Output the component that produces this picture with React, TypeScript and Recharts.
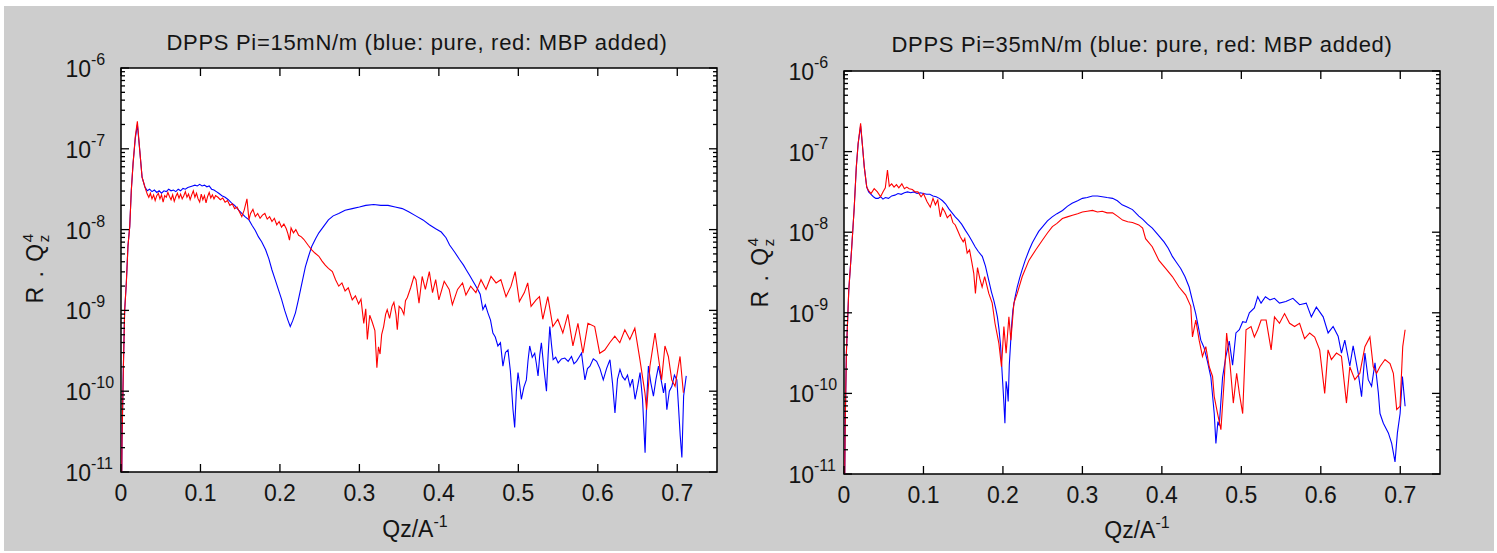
import React from "react";
import { Line, LineChart, ReferenceArea, XAxis, YAxis } from "recharts";

// Qz (1/A) and log10(R.Qz^4)
const pure15: [number, number][] = [
  [0.0005, -11.6], [0.0013, -10.6], [0.003, -9.7], [0.0046, -9.0], [0.0067, -8.66], [0.0088, -8.2],
  [0.011, -7.96], [0.013, -7.51], [0.0152, -7.18], [0.018, -6.87], [0.0206, -6.7], [0.0236, -7.02],
  [0.0265, -7.35], [0.03, -7.47], [0.033, -7.52], [0.036, -7.5], [0.039, -7.53], [0.042, -7.51],
  [0.045, -7.54], [0.048, -7.52], [0.051, -7.55], [0.054, -7.52], [0.057, -7.53], [0.06, -7.5],
  [0.063, -7.52], [0.066, -7.51], [0.069, -7.53], [0.072, -7.5], [0.075, -7.52], [0.078, -7.49],
  [0.081, -7.5], [0.084, -7.48], [0.087, -7.47], [0.09, -7.46], [0.093, -7.45], [0.096, -7.46],
  [0.099, -7.44], [0.102, -7.46], [0.105, -7.45], [0.108, -7.47], [0.111, -7.46], [0.114, -7.5],
  [0.117, -7.51], [0.12, -7.53], [0.123, -7.55], [0.127, -7.58], [0.131, -7.6], [0.135, -7.63],
  [0.139, -7.67], [0.143, -7.7], [0.148, -7.76], [0.152, -7.8], [0.156, -7.84], [0.161, -7.88],
  [0.165, -7.95], [0.169, -8.01], [0.173, -8.09], [0.177, -8.15], [0.182, -8.25], [0.186, -8.36],
  [0.19, -8.5], [0.194, -8.62], [0.198, -8.74], [0.202, -8.86], [0.206, -9.0], [0.21, -9.12],
  [0.213, -9.2], [0.216, -9.13], [0.2195, -9.03], [0.223, -8.88], [0.226, -8.74], [0.229, -8.6],
  [0.232, -8.46], [0.236, -8.33], [0.24, -8.21], [0.245, -8.11], [0.249, -8.04], [0.255, -7.96],
  [0.261, -7.88], [0.267, -7.83], [0.274, -7.8], [0.282, -7.76], [0.291, -7.74], [0.3, -7.72],
  [0.308, -7.7], [0.318, -7.69], [0.327, -7.7], [0.336, -7.7], [0.345, -7.72], [0.354, -7.74],
  [0.362, -7.78], [0.371, -7.83], [0.38, -7.88], [0.388, -7.94], [0.396, -7.99], [0.403, -8.03],
  [0.409, -8.1], [0.4135, -8.19], [0.42, -8.28], [0.426, -8.37], [0.431, -8.44], [0.4346, -8.5],
  [0.439, -8.57], [0.443, -8.64], [0.449, -8.74], [0.452, -8.8], [0.4554, -8.99], [0.4585, -8.93],
  [0.4617, -9.03], [0.465, -9.12], [0.468, -9.28], [0.471, -9.33], [0.4743, -9.44], [0.4775, -9.4],
  [0.4806, -9.69], [0.4838, -9.52], [0.487, -9.49], [0.49, -9.75], [0.4933, -10.23], [0.4954, -10.45],
  [0.4975, -10.0], [0.4996, -9.77], [0.5017, -9.92], [0.5038, -10.1], [0.507, -9.95], [0.5101, -9.86],
  [0.5122, -9.62], [0.5143, -9.44], [0.5175, -9.58], [0.5206, -9.53], [0.5227, -9.66], [0.5248, -9.81],
  [0.527, -9.55], [0.529, -9.4], [0.532, -9.7], [0.5354, -10.0], [0.5375, -9.55], [0.5396, -9.2],
  [0.5417, -9.42], [0.5438, -9.61], [0.547, -9.58], [0.5501, -9.65], [0.5543, -9.6], [0.5585, -9.59],
  [0.5627, -9.63], [0.5669, -9.57], [0.57, -9.66], [0.5732, -9.63], [0.5764, -9.58], [0.5795, -9.53],
  [0.5817, -9.7], [0.5838, -9.86], [0.587, -9.72], [0.5901, -9.69], [0.5943, -9.6], [0.5985, -9.63],
  [0.6027, -9.72], [0.6069, -9.86], [0.611, -9.72], [0.6153, -9.61], [0.6185, -9.9], [0.6216, -10.27],
  [0.6248, -9.85], [0.6279, -9.73], [0.631, -9.82], [0.6342, -9.86], [0.6374, -9.8], [0.6406, -9.94],
  [0.6437, -9.85], [0.6469, -10.1], [0.65, -9.95], [0.6532, -9.77], [0.6563, -10.1], [0.6595, -10.76],
  [0.6616, -10.1], [0.6637, -9.69], [0.6668, -9.9], [0.67, -10.06], [0.6732, -9.85], [0.6764, -9.69],
  [0.6795, -9.85], [0.6827, -10.02], [0.6848, -9.9], [0.6869, -10.23], [0.69, -10.0], [0.6932, -9.94],
  [0.6964, -9.8], [0.6995, -9.86], [0.7016, -10.2], [0.7037, -10.55], [0.7058, -10.82], [0.708, -10.06],
  [0.7113, -9.81],
];

const mbp15: [number, number][] = [
  [0.0005, -11.6], [0.0013, -10.6], [0.003, -9.7], [0.0046, -9.0], [0.0067, -8.66], [0.0088, -8.2],
  [0.011, -7.96], [0.013, -7.51], [0.0152, -7.18], [0.018, -6.85], [0.0206, -6.66], [0.0236, -7.02],
  [0.0265, -7.35], [0.03, -7.47], [0.033, -7.56], [0.035, -7.6], [0.037, -7.55], [0.039, -7.62],
  [0.041, -7.57], [0.043, -7.64], [0.045, -7.58], [0.047, -7.55], [0.049, -7.62], [0.051, -7.57],
  [0.053, -7.66], [0.055, -7.58], [0.057, -7.6], [0.059, -7.54], [0.061, -7.59], [0.063, -7.63],
  [0.065, -7.57], [0.067, -7.65], [0.069, -7.59], [0.071, -7.55], [0.073, -7.61], [0.075, -7.56],
  [0.077, -7.62], [0.079, -7.58], [0.081, -7.53], [0.083, -7.6], [0.085, -7.56], [0.087, -7.63],
  [0.089, -7.57], [0.091, -7.52], [0.093, -7.6], [0.095, -7.55], [0.097, -7.62], [0.099, -7.66],
  [0.101, -7.56], [0.103, -7.63], [0.105, -7.58], [0.107, -7.67], [0.109, -7.59], [0.111, -7.54],
  [0.113, -7.61], [0.115, -7.57], [0.117, -7.62], [0.119, -7.58], [0.122, -7.6], [0.125, -7.63],
  [0.128, -7.61], [0.131, -7.66], [0.134, -7.64], [0.137, -7.7], [0.14, -7.68], [0.143, -7.74],
  [0.146, -7.72], [0.149, -7.78], [0.152, -7.84], [0.155, -7.76], [0.1585, -7.62], [0.161, -7.88],
  [0.163, -7.8], [0.166, -7.75], [0.169, -7.84], [0.172, -7.8], [0.175, -7.86], [0.178, -7.82],
  [0.181, -7.8], [0.184, -7.87], [0.187, -7.84], [0.19, -7.9], [0.193, -7.86], [0.196, -7.94],
  [0.199, -7.9], [0.202, -7.97], [0.205, -7.93], [0.208, -7.99], [0.21, -8.05], [0.212, -8.13],
  [0.214, -7.98], [0.217, -8.04], [0.22, -8.0], [0.2235, -8.07], [0.227, -8.09], [0.23, -8.12],
  [0.233, -8.16], [0.236, -8.2], [0.24, -8.25], [0.244, -8.29], [0.249, -8.33], [0.253, -8.39],
  [0.257, -8.44], [0.261, -8.48], [0.266, -8.52], [0.27, -8.62], [0.274, -8.7], [0.278, -8.66],
  [0.282, -8.76], [0.286, -8.72], [0.291, -8.87], [0.295, -8.82], [0.299, -8.92], [0.302, -8.86],
  [0.3055, -9.16], [0.308, -8.98], [0.31, -9.36], [0.313, -9.06], [0.316, -9.14], [0.3195, -9.25],
  [0.322, -9.71], [0.324, -9.45], [0.326, -9.54], [0.328, -9.3], [0.3305, -9.2], [0.333, -9.05],
  [0.335, -8.99], [0.338, -9.1], [0.341, -8.95], [0.3434, -8.9], [0.346, -9.05], [0.3477, -9.24],
  [0.35, -8.95], [0.353, -8.98], [0.356, -9.05], [0.358, -8.88], [0.3603, -8.84], [0.3645, -8.72],
  [0.3687, -8.58], [0.3712, -8.62], [0.375, -8.91], [0.379, -8.58], [0.383, -8.74], [0.388, -8.52],
  [0.392, -8.78], [0.396, -8.62], [0.4, -8.87], [0.4067, -8.64], [0.413, -8.74], [0.417, -8.93],
  [0.4235, -8.74], [0.4298, -8.66], [0.434, -8.81], [0.44, -8.7], [0.4466, -8.78], [0.453, -8.62],
  [0.4593, -8.74], [0.4656, -8.58], [0.472, -8.66], [0.478, -8.62], [0.4845, -8.83], [0.4908, -8.7],
  [0.496, -8.52], [0.5013, -8.89], [0.5076, -8.78], [0.5118, -8.66], [0.516, -8.95], [0.5224, -8.87],
  [0.5266, -8.83], [0.5308, -9.11], [0.5371, -8.83], [0.5434, -9.2], [0.5497, -9.11], [0.556, -9.28],
  [0.5623, -9.05], [0.5687, -9.44], [0.575, -9.16], [0.5813, -9.53], [0.5876, -9.16], [0.5961, -9.2],
  [0.6024, -9.53], [0.6087, -9.49], [0.615, -9.4], [0.6214, -9.32], [0.6277, -9.4], [0.634, -9.24],
  [0.6403, -9.36], [0.6466, -9.22], [0.653, -9.61], [0.6593, -10.02], [0.6614, -10.23], [0.6656, -9.69],
  [0.672, -9.28], [0.6761, -9.57], [0.6803, -9.86], [0.6845, -9.44], [0.6888, -9.57], [0.693, -9.86],
  [0.6972, -9.94], [0.7035, -9.57], [0.7077, -10.02],
];

const pure35: [number, number][] = [
  [0.0005, -11.5], [0.0015, -10.4], [0.003, -9.5], [0.006, -8.72], [0.0095, -8.22], [0.0129, -7.69],
  [0.0155, -7.19], [0.0178, -6.9], [0.0209, -6.68], [0.023, -6.9], [0.0255, -7.19], [0.0286, -7.44],
  [0.031, -7.5], [0.034, -7.53], [0.037, -7.56], [0.04, -7.58], [0.043, -7.58], [0.046, -7.56],
  [0.049, -7.59], [0.052, -7.57], [0.056, -7.58], [0.06, -7.55], [0.064, -7.54], [0.068, -7.52],
  [0.072, -7.53], [0.076, -7.51], [0.08, -7.5], [0.084, -7.51], [0.088, -7.5], [0.092, -7.52],
  [0.096, -7.51], [0.1, -7.52], [0.104, -7.53], [0.108, -7.53], [0.112, -7.55], [0.116, -7.56],
  [0.12, -7.58], [0.124, -7.61], [0.128, -7.65], [0.132, -7.71], [0.136, -7.76], [0.14, -7.81],
  [0.144, -7.85], [0.148, -7.9], [0.153, -7.98], [0.157, -8.04], [0.161, -8.11], [0.165, -8.18],
  [0.169, -8.24], [0.174, -8.3], [0.178, -8.42], [0.182, -8.59], [0.1855, -8.74], [0.1886, -8.85],
  [0.191, -8.95], [0.193, -9.05], [0.195, -9.2], [0.197, -9.4], [0.199, -9.75], [0.201, -10.08],
  [0.2025, -10.37], [0.204, -9.85], [0.2055, -9.95], [0.2066, -10.1], [0.208, -9.65], [0.2096, -9.38],
  [0.211, -9.15], [0.2125, -8.97], [0.215, -8.82], [0.218, -8.68], [0.221, -8.57], [0.224, -8.47],
  [0.228, -8.35], [0.233, -8.22], [0.237, -8.13], [0.241, -8.06], [0.245, -7.99], [0.25, -7.93],
  [0.256, -7.86], [0.262, -7.81], [0.268, -7.77], [0.275, -7.73], [0.281, -7.68], [0.287, -7.64],
  [0.294, -7.61], [0.3, -7.58], [0.306, -7.57], [0.3127, -7.55], [0.319, -7.55], [0.325, -7.56],
  [0.331, -7.57], [0.338, -7.58], [0.344, -7.61], [0.35, -7.66], [0.357, -7.69], [0.363, -7.72],
  [0.371, -7.8], [0.376, -7.84], [0.382, -7.9], [0.388, -7.95], [0.395, -8.03], [0.4027, -8.12],
  [0.408, -8.2], [0.4132, -8.3], [0.418, -8.37], [0.4237, -8.45], [0.429, -8.55], [0.4343, -8.68],
  [0.4385, -8.85], [0.4426, -9.01], [0.446, -9.18], [0.449, -9.34], [0.453, -9.43], [0.4575, -9.61],
  [0.4617, -9.8], [0.4659, -10.25], [0.468, -10.62], [0.4705, -10.35], [0.4722, -10.4], [0.4764, -9.8],
  [0.4806, -9.54], [0.4848, -9.35], [0.489, -9.65], [0.4932, -9.25], [0.4975, -9.21], [0.5017, -9.11],
  [0.5059, -9.12], [0.5101, -9.0], [0.5164, -8.94], [0.5206, -8.8], [0.5248, -8.88], [0.5303, -8.8],
  [0.536, -8.84], [0.5417, -8.82], [0.548, -8.88], [0.556, -8.86], [0.5649, -8.82], [0.5733, -8.9],
  [0.5817, -8.88], [0.5881, -9.05], [0.5944, -8.93], [0.603, -9.05], [0.6092, -9.25], [0.6155, -9.17],
  [0.6218, -9.29], [0.626, -9.5], [0.6302, -9.34], [0.6365, -9.66], [0.6407, -9.41], [0.6471, -9.75],
  [0.6513, -10.04], [0.6555, -9.5], [0.6597, -9.83], [0.6639, -9.91], [0.6682, -9.62], [0.6724, -9.99],
  [0.6745, -10.25], [0.6787, -10.37], [0.685, -10.49], [0.6892, -10.62], [0.6934, -10.85], [0.6964, -10.49],
  [0.6998, -10.25], [0.7027, -9.79], [0.7061, -10.16],
];

const mbp35: [number, number][] = [
  [0.0005, -11.5], [0.0015, -10.4], [0.003, -9.5], [0.006, -8.72], [0.0095, -8.22], [0.0129, -7.69],
  [0.0155, -7.19], [0.0178, -6.9], [0.0209, -6.65], [0.023, -6.9], [0.0255, -7.19], [0.0286, -7.44],
  [0.0307, -7.48], [0.034, -7.52], [0.038, -7.46], [0.042, -7.5], [0.046, -7.56], [0.049, -7.5],
  [0.052, -7.45], [0.0547, -7.23], [0.057, -7.43], [0.06, -7.4], [0.063, -7.44], [0.066, -7.41],
  [0.069, -7.45], [0.0728, -7.4], [0.076, -7.46], [0.079, -7.44], [0.082, -7.46], [0.086, -7.47],
  [0.0896, -7.5], [0.093, -7.5], [0.097, -7.56], [0.1, -7.52], [0.1044, -7.62], [0.1086, -7.69],
  [0.112, -7.58], [0.115, -7.66], [0.118, -7.6], [0.1212, -7.81], [0.124, -7.7], [0.127, -7.75],
  [0.13, -7.82], [0.134, -7.78], [0.137, -7.88], [0.14, -7.91], [0.143, -7.98], [0.1465, -8.06],
  [0.15, -8.12], [0.152, -8.08], [0.155, -8.26], [0.158, -8.22], [0.161, -8.38], [0.1633, -8.51],
  [0.1654, -8.76], [0.168, -8.44], [0.171, -8.58], [0.1738, -8.68], [0.177, -8.55], [0.1822, -8.76],
  [0.1865, -8.88], [0.19, -9.13], [0.1949, -9.38], [0.1982, -9.67], [0.2012, -9.17], [0.204, -9.5],
  [0.2075, -9.05], [0.21, -9.34], [0.2138, -8.88], [0.218, -8.76], [0.2243, -8.55], [0.2327, -8.35],
  [0.2412, -8.22], [0.2496, -8.1], [0.256, -8.01], [0.2622, -7.93], [0.268, -7.89], [0.2748, -7.83],
  [0.281, -7.81], [0.2875, -7.79], [0.294, -7.77], [0.3, -7.75], [0.306, -7.74], [0.3127, -7.73],
  [0.319, -7.75], [0.325, -7.74], [0.331, -7.76], [0.338, -7.76], [0.344, -7.8], [0.3506, -7.85],
  [0.357, -7.87], [0.363, -7.88], [0.371, -7.91], [0.3758, -7.95], [0.3795, -8.08], [0.3879, -8.18],
  [0.3963, -8.35], [0.4047, -8.45], [0.4132, -8.55], [0.4216, -8.68], [0.43, -8.78], [0.4364, -8.92],
  [0.4385, -9.3], [0.4427, -9.09], [0.4469, -9.34], [0.4511, -9.54], [0.4553, -9.42], [0.4596, -9.67],
  [0.4638, -9.79], [0.4659, -10.04], [0.4701, -10.25], [0.4743, -10.45], [0.4785, -9.83], [0.4815, -9.25],
  [0.4857, -9.63], [0.4899, -10.12], [0.4941, -9.75], [0.4975, -10.0], [0.5017, -10.25], [0.5059, -9.21],
  [0.5122, -9.17], [0.5164, -9.3], [0.5206, -9.21], [0.5249, -9.09], [0.5312, -9.09], [0.5375, -9.46],
  [0.5417, -9.05], [0.548, -9.13], [0.5544, -9.01], [0.5607, -9.13], [0.567, -9.17], [0.5733, -9.13],
  [0.5796, -9.32], [0.586, -9.25], [0.5923, -9.3], [0.5986, -9.46], [0.6049, -10.0], [0.6091, -9.46],
  [0.6133, -9.58], [0.6197, -9.5], [0.626, -9.54], [0.6323, -10.12], [0.6365, -9.67], [0.6428, -9.83],
  [0.6491, -9.75], [0.6555, -9.42], [0.6618, -9.3], [0.666, -9.67], [0.6702, -9.75], [0.6744, -9.67],
  [0.6808, -9.58], [0.6871, -9.63], [0.6913, -9.75], [0.6955, -10.2], [0.6997, -10.16], [0.7031, -9.42],
  [0.7061, -9.21],
];

const X_TICKS = [0, 0.1, 0.2, 0.3, 0.4, 0.5, 0.6, 0.7];
const Y_DECADES = [-11, -10, -9, -8, -7, -6];
const Y_MAJOR = Y_DECADES.map((e) => 10 ** e);
const Y_TICKS = [
  ...Y_MAJOR,
  ...Y_DECADES.slice(0, -1).flatMap((e) => [2, 3, 4, 5, 6, 7, 8, 9].map((m) => m * 10 ** e)),
];

const FONT = "'Liberation Sans', Arial, Helvetica, sans-serif";
const INK = "#141414";
const AXIS_W = 60;
const AXIS_H = 60;
const CHART_H = 553;

const toRows = (pts: [number, number][]) => pts.map(([q, e]) => ({ q, r: 10 ** e }));

function yTick(plotW: number) {
  return (props: any) => {
    const { x, y, payload } = props;
    const v = payload.value;
    const exp = Math.round(Math.log10(v));
    const major = Math.abs(v / 10 ** exp - 1) < 1e-6;
    const len = major ? 8 : 4;
    return (
      <g>
        <line x1={x} y1={y} x2={x + len} y2={y} stroke="#000" strokeWidth={1.3} />
        <line x1={x + plotW} y1={y} x2={x + plotW - len} y2={y} stroke="#000" strokeWidth={1.3} />
        {major && (
          <>
            <text x={x - 30} y={y + 9} textAnchor="end" fontSize={23} fontFamily={FONT} fill={INK}>
              10
            </text>
            <text x={x - 30} y={y - 3} textAnchor="start" fontSize={16} fontFamily={FONT} fill={INK}>
              {String(exp).replace("-", "\u2011")}
            </text>
          </>
        )}
      </g>
    );
  };
}

function xTick(plotH: number) {
  return (props: any) => {
    const { x, y, payload } = props;
    return (
      <g>
        <line x1={x} y1={y} x2={x} y2={y - 8} stroke="#000" strokeWidth={1.3} />
        <line x1={x} y1={y - plotH} x2={x} y2={y - plotH + 8} stroke="#000" strokeWidth={1.3} />
        <text x={x} y={y + 29} textAnchor="middle" fontSize={23} fontFamily={FONT} fill={INK}>
          {String(payload.value)}
        </text>
      </g>
    );
  };
}

interface PanelProps {
  left: number;
  width: number;
  margin: { top: number; right: number; bottom: number; left: number };
  pure: [number, number][];
  mbp: [number, number][];
}

function Panel({ left, width, margin, pure, mbp }: PanelProps) {
  const plotW = width - margin.left - margin.right - AXIS_W;
  const plotH = CHART_H - margin.top - margin.bottom - AXIS_H;
  return (
    <div style={{ position: "absolute", left, top: 0, width, height: CHART_H }}>
      {/* white axes area sits behind the svg so the inward ticks stay visible */}
      <div
        style={{
          position: "absolute",
          left: margin.left + AXIS_W,
          top: margin.top,
          width: plotW,
          height: plotH,
          background: "#ffffff",
        }}
      />
      <div style={{ position: "absolute", left: 0, top: 0 }}>
        <LineChart width={width} height={CHART_H} margin={margin}>
          <XAxis
            type="number"
            dataKey="q"
            domain={[0, 0.75]}
            ticks={X_TICKS}
            interval={0}
            height={AXIS_H}
            axisLine={false}
            tickLine={false}
            tickSize={0}
            tickMargin={0}
            tick={xTick(plotH)}
            allowDataOverflow
          />
          <YAxis
            type="number"
            scale="log"
            domain={[1e-11, 1e-6]}
            ticks={Y_TICKS}
            interval={0}
            width={AXIS_W}
            axisLine={false}
            tickLine={false}
            tickSize={0}
            tickMargin={0}
            tick={yTick(plotW)}
            allowDataOverflow
          />
          <Line
            data={toRows(pure)}
            dataKey="r"
            type="linear"
            stroke="#0000ff"
            strokeWidth={1.1}
            dot={false}
            activeDot={false}
            isAnimationActive={false}
          />
          <Line
            data={toRows(mbp)}
            dataKey="r"
            type="linear"
            stroke="#ff0000"
            strokeWidth={1.1}
            dot={false}
            activeDot={false}
            isAnimationActive={false}
          />
          <ReferenceArea x1={0} x2={0.75} y1={1e-11} y2={1e-6} fill="none" stroke="#000" strokeWidth={1.5} />
        </LineChart>
      </div>
    </div>
  );
}

function YLabel({ cx, cy }: { cx: number; cy: number }) {
  return (
    <text
      x={cx}
      y={cy}
      transform={`rotate(-90 ${cx} ${cy})`}
      textAnchor="middle"
      fontSize={23}
      letterSpacing={1.5}
      fontFamily={FONT}
      fill={INK}
    >
      R . Q
      <tspan fontSize={15} dy={6}>z</tspan>
      <tspan fontSize={15} dx={-9} dy={-16}>4</tspan>
    </text>
  );
}

function XLabel({ cx, y }: { cx: number; y: number }) {
  return (
    <text x={cx} y={y} textAnchor="middle" fontSize={23} fontFamily={FONT} fill={INK}>
      Qz/A
      <tspan fontSize={16} dy={-10}>-1</tspan>
    </text>
  );
}

export default function App() {
  return (
    <div style={{ position: "absolute", left: 0, top: 0, width: 1497, height: 553, background: "#ffffff" }}>
      <div style={{ position: "absolute", left: 4, top: 6, width: 1490, height: 545, background: "#cdcdcd" }} />
      <Panel left={0} width={740} margin={{ top: 68, right: 23, bottom: 21, left: 61 }} pure={pure15} mbp={mbp15} />
      <Panel left={740} width={757} margin={{ top: 71, right: 57, bottom: 19, left: 44 }} pure={pure35} mbp={mbp35} />
      <svg width={1497} height={553} style={{ position: "absolute", left: 0, top: 0, pointerEvents: "none" }}>
        <text x={417} y={50} textAnchor="middle" fontSize={22} letterSpacing={0.7} fontFamily={FONT} fill={INK}>
          DPPS Pi=15mN/m (blue: pure, red: MBP added)
        </text>
        <text x={1142} y={52} textAnchor="middle" fontSize={22} letterSpacing={0.7} fontFamily={FONT} fill={INK}>
          DPPS Pi=35mN/m (blue: pure, red: MBP added)
        </text>
        <XLabel cx={415} y={537} />
        <XLabel cx={1137} y={538} />
        <YLabel cx={43} cy={268} />
        <YLabel cx={768} cy={272} />
      </svg>
    </div>
  );
}
